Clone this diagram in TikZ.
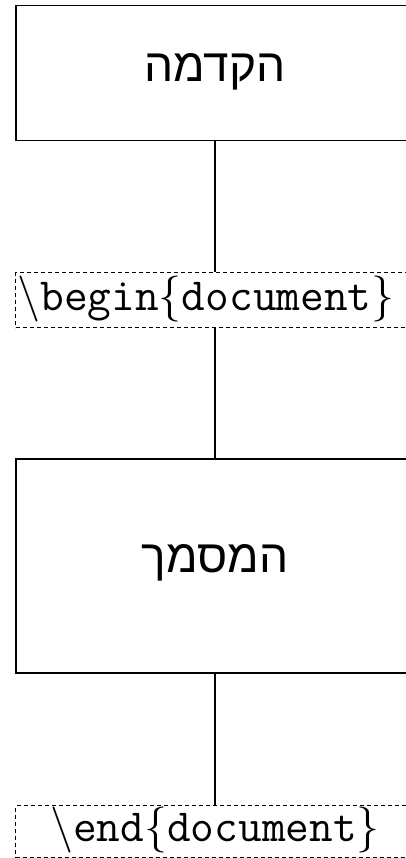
\documentclass[tikz,border=0pt]{standalone}
\usepackage{fix-cm}
\usepackage{fontspec}
\newfontfamily\hebfont[Script=Hebrew]{Liberation Sans}
\TeXXeTstate=1
\begin{document}
\begin{tikzpicture}[x=1pt,y=1pt,
  solidbox/.style={draw, line width=1.5pt, minimum width=400pt, inner sep=0pt, anchor=north west},
  dashbox/.style={draw, dash pattern=on 4pt off 3pt, line width=1.4pt, minimum width=400pt, inner sep=0pt, anchor=north west},
  link/.style={line width=1.5pt},
  hebtext/.style={font=\hebfont\fontsize{46}{46}\selectfont},
  codetext/.style={font=\fontsize{46}{46}\selectfont}]
\useasboundingbox (0,0) rectangle (405,-858);
\node[solidbox, minimum height=135pt] (pre) at (15,-5) {};
\node[hebtext] (pret) at (215,-72) {\beginR הקדמה\endR};
\node[dashbox, minimum height=55pt] (beg) at (15,-272) {};
\node[codetext] (begt) at (206,-299) {$\backslash$\texttt{begin}$\{$\texttt{document}$\}$};
\node[solidbox, minimum height=214pt] (doc) at (15,-458) {};
\node[hebtext] (doct) at (215,-563) {\beginR המסמך\endR};
\node[dashbox, minimum height=52pt] (endb) at (15,-805) {};
\node[codetext] (endt) at (215,-830) {$\backslash$\texttt{end}$\{$\texttt{document}$\}$};
\draw[link] (pre.south -| 215,0) -- (beg.north -| 215,0);
\draw[link] (beg.south -| 215,0) -- (doc.north -| 215,0);
\draw[link] (doc.south -| 215,0) -- (endb.north -| 215,0);
\end{tikzpicture}
\end{document}
